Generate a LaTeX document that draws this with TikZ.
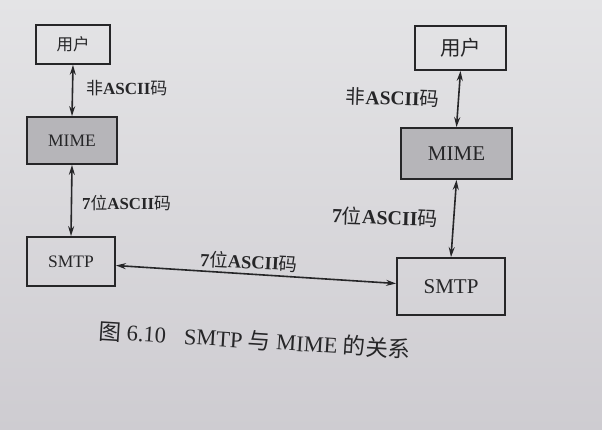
\documentclass[tikz,border=0pt]{standalone}
\usepackage{fontspec}
\setmainfont{Liberation Serif}
\newfontfamily\cjk{Noto Sans CJK SC}
\usetikzlibrary{arrows.meta}
\definecolor{pagetop}{RGB}{228,228,230}
\definecolor{pagebot}{RGB}{206,204,209}
\definecolor{ink}{RGB}{38,38,40}
\definecolor{mimefill}{RGB}{182,181,185}
\tikzset{
  box/.style={draw=ink, line width=1.8pt, text=ink, inner sep=0pt, anchor=center},
  mimebox/.style={box, fill=mimefill},
  conn/.style={draw=ink, line width=1.6pt, {Stealth[length=10pt,width=6pt]}-{Stealth[length=10pt,width=6pt]}},
  lbl/.style={text=ink, inner sep=0pt, anchor=west},
}
\newcommand{\nonascii}{{\cjk 非}\textbf{ASCII}{\cjk 码}}
\newcommand{\sevenbit}{\textbf{7}{\cjk 位}\textbf{ASCII}{\cjk 码}}
\begin{document}
\begin{tikzpicture}[x=1pt,y=-1pt]
\shade[top color=pagetop, bottom color=pagebot] (0,0) rectangle (602,430);
\useasboundingbox (0,0) rectangle (602,430);
% left column
\node[box, minimum width=74pt, minimum height=39pt, font=\fontsize{16.5}{18}\selectfont\cjk] (lu) at (73,44.5) {用户};
\node[mimebox, minimum width=90pt, minimum height=47pt, font=\fontsize{17.5}{19}\selectfont] (lm) at (72,140.5) {MIME};
\node[box, minimum width=88pt, minimum height=49pt, font=\fontsize{17.5}{19}\selectfont] (ls) at (71,261.5) {SMTP};
% right column
\node[box, minimum width=91pt, minimum height=44pt, font=\fontsize{20.5}{22}\selectfont\cjk] (ru) at (460.5,48) {用户};
\node[mimebox, minimum width=111pt, minimum height=51pt, font=\fontsize{21}{23}\selectfont] (rm) at (456.5,153.5) {MIME};
\node[box, minimum width=108pt, minimum height=57pt, font=\fontsize{21}{23}\selectfont] (rs) at (451,286.5) {SMTP};
% connectors
\draw[conn] (lu.south) -- (lm.north);
\draw[conn] (lm.south) -- (ls.north);
\draw[conn] (ru.south) -- (rm.north);
\draw[conn] (rm.south) -- (rs.north);
\draw[conn] ([yshift=-4pt]ls.east) -- ([yshift=3pt]rs.west);
% labels
\node[lbl, font=\fontsize{17}{18}\selectfont] (l1) at (86,88) {\nonascii};
\node[lbl, font=\fontsize{16.8}{18}\selectfont] (l2) at (82,203) {\sevenbit};
\node[lbl, font=\fontsize{18.5}{20}\selectfont, rotate=-3] (l3) at (200,259) {\sevenbit};
\node[lbl, font=\fontsize{19.5}{21}\selectfont, rotate=-2] (l4) at (346,96) {\nonascii};
\node[lbl, font=\fontsize{20}{21}\selectfont, rotate=-2] (l5) at (332,215) {\sevenbit};
% caption
\node[text=ink, inner sep=0pt, anchor=base west, rotate=-3.5, font=\fontsize{22.5}{24}\selectfont] (cap) at (98,339)
  {{\cjk 图} 6.10\hspace{0.8em}SMTP {\cjk 与} MIME {\cjk 的关系}};
\end{tikzpicture}
\end{document}
